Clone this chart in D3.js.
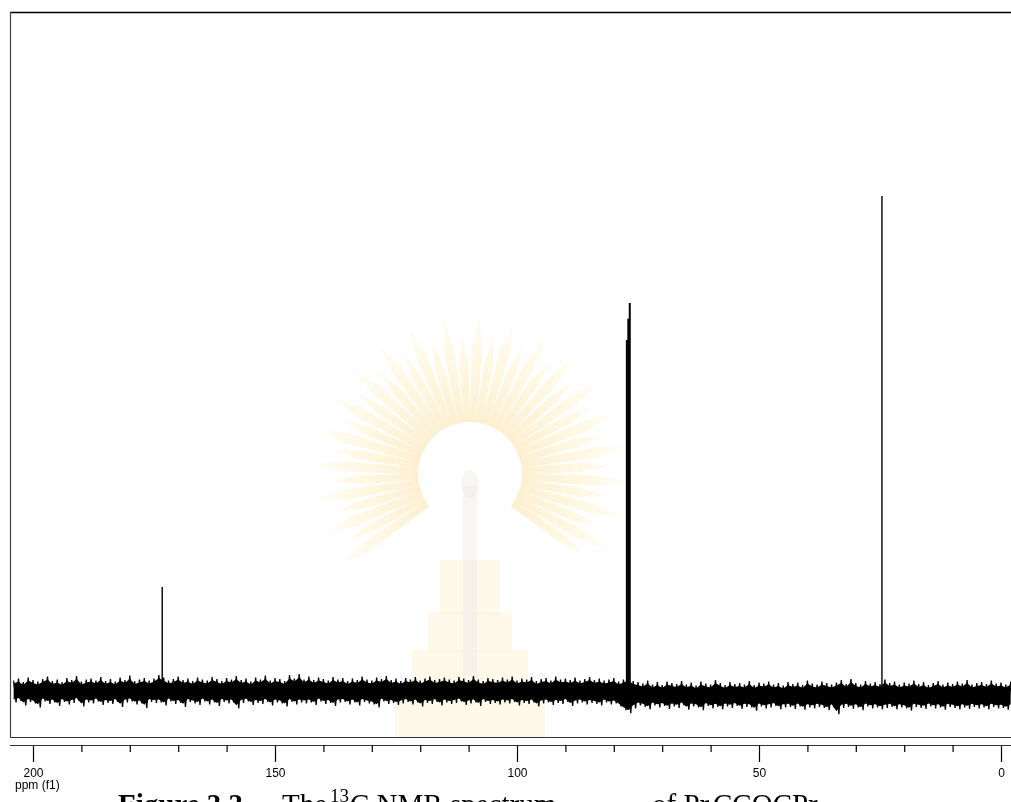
<!DOCTYPE html>
<html>
<head>
<meta charset="utf-8">
<script src="https://cdn.jsdelivr.net/npm/d3@7/dist/d3.min.js"></script>
<style>
  html, body { margin: 0; padding: 0; background: #fff; }
  svg { display: block; }
</style>
</head>
<body>
<svg id="chart" width="1011" height="802"></svg>
<script>
// ---------------- DATA ----------------
// Signals (ppm) and intensities (% of the tallest signal)
const peakPpm    = [173.3, 77.3, 77.0, 76.7, 24.6];
const peakHeight = [21.0, 70.9, 75.2, 78.4, 100.0];

// Noise envelope, one value per ppm from 204 down to -2 (upper and lower edge, % units)
const noiseStartPpm = 204;
const noiseHi = [
  1.8,2.2,1.5,2.4,1.9,1.6,2.1,2.6,1.7,2.0,
  1.5,2.3,1.9,2.7,1.6,2.0,2.2,1.8,2.5,1.7,
  2.1,1.6,2.4,1.9,2.8,1.7,2.0,2.3,1.8,2.2,
  2.9,2.4,1.8,2.1,2.6,1.9,2.2,1.7,2.4,2.0,
  1.8,2.5,2.1,1.7,2.3,2.0,2.7,1.9,2.2,1.6,
  2.4,2.0,2.8,1.8,2.3,2.1,1.7,2.9,2.2,3.1,
  2.0,2.6,1.9,2.4,2.1,1.8,2.5,2.0,2.3,1.7,
  2.2,1.9,2.6,2.0,1.8,2.4,2.1,2.7,1.9,2.2,
  1.7,2.3,2.0,2.5,1.8,2.2,2.6,1.9,2.1,2.4,
  2.0,1.8,2.5,2.2,1.9,2.7,2.0,1.7,2.3,2.1,
  1.9,2.4,2.0,2.6,1.8,2.2,2.0,2.5,1.7,2.1,
  2.3,1.8,2.6,2.0,2.2,1.9,2.4,1.8,2.1,2.5,
  1.9,2.2,1.8,2.0,2.3,1.6,2.0,2.4,1.7,1.5,
  1.2,1.8,1.0,1.5,0.9,1.6,1.3,1.1,1.7,1.0,
  1.4,0.8,1.6,1.2,1.0,1.9,1.3,0.9,1.5,1.1,
  1.3,1.0,1.7,0.9,1.4,1.2,1.6,1.0,1.3,0.8,
  1.5,1.1,1.4,0.9,1.8,1.2,1.0,1.6,1.3,1.0,
  1.4,1.9,1.1,2.1,1.3,1.0,1.7,1.2,1.5,1.1,
  2.0,1.3,1.6,1.0,1.4,1.2,1.8,1.1,1.5,0.9,
  1.3,1.7,1.0,1.4,1.1,1.6,1.2,1.9,1.0,1.3,
  1.5,1.1,1.8,1.2,1.4,1.0,1.6
];
const noiseLo = [
  -2.0,-1.7,-2.6,-1.9,-2.2,-3.0,-1.8,-2.3,-2.0,-2.7,
  -1.9,-2.4,-2.1,-1.7,-2.8,-2.0,-2.2,-1.8,-2.5,-2.1,
  -2.3,-1.9,-2.9,-2.0,-1.8,-2.4,-2.2,-3.1,-1.9,-2.1,
  -2.0,-2.6,-1.8,-2.3,-2.1,-2.9,-1.9,-2.2,-2.5,-1.8,
  -2.4,-2.0,-2.7,-1.9,-2.2,-2.0,-3.2,-2.1,-1.8,-2.5,
  -2.1,-2.3,-1.9,-2.6,-2.0,-2.2,-2.8,-1.9,-2.4,-2.0,
  -2.2,-2.0,-2.5,-1.8,-2.3,-2.1,-2.7,-2.0,-1.9,-2.4,
  -2.0,-2.6,-1.9,-2.2,-2.4,-3.0,-1.8,-2.3,-2.1,-2.5,
  -2.2,-1.9,-2.4,-2.0,-2.8,-2.1,-2.3,-1.9,-2.6,-2.0,
  -2.3,-2.1,-1.8,-2.5,-2.2,-2.0,-2.7,-1.9,-2.3,-2.1,
  -2.4,-2.0,-2.2,-1.9,-2.6,-2.1,-2.3,-2.0,-2.8,-2.2,
  -2.0,-2.5,-2.1,-2.3,-1.9,-2.7,-2.2,-2.0,-2.4,-2.1,
  -2.3,-2.6,-2.0,-2.4,-2.2,-2.8,-3.6,-4.2,-3.2,-2.6,
  -2.9,-3.4,-2.6,-3.0,-2.7,-3.3,-2.8,-3.1,-2.6,-3.5,
  -2.8,-3.0,-3.6,-2.7,-3.2,-2.9,-3.4,-2.8,-3.1,-2.7,
  -3.3,-2.9,-3.0,-3.7,-2.8,-3.2,-3.0,-2.7,-3.4,-3.0,
  -2.9,-3.3,-2.8,-3.5,-3.0,-3.2,-2.9,-3.1,-3.6,-3.0,
  -4.4,-3.1,-2.9,-3.3,-3.0,-3.6,-2.8,-3.2,-3.0,-3.4,
  -3.1,-2.9,-3.4,-3.0,-3.2,-3.7,-2.9,-3.1,-3.3,-2.8,
  -3.2,-3.0,-3.5,-2.9,-3.1,-3.4,-3.0,-3.3,-2.9,-3.2,
  -3.0,-3.4,-2.9,-3.2,-3.1,-3.5,-3.0
];

// Axis ticks
const majorTicks = [200, 150, 100, 50, 0];
const minorTicks = [190, 180, 170, 160, 140, 130, 120, 110, 90, 80, 70, 60, 40, 30, 20, 10];
const axisTitle = "ppm (f1)";

// ---------------- DRAW ----------------
const svg = d3.select("#chart");
const W = 1011, H = 802;
const frame = { left: 10, top: 12, bottom: 737 };
const axisY = 745;

svg.append("rect").attr("width", W).attr("height", H).attr("fill", "#fff");

const x = d3.scaleLinear().domain([200, 0]).range([33, 1001]);
const y = d3.scaleLinear().domain([0, 100]).range([691, 196]);

const defs = svg.append("defs");

// --- faint watermark emblem (background decoration) ---
const wm = svg.append("g").attr("opacity", 0.38);
const cx = 470, cy = 474;
const rg = defs.append("radialGradient").attr("id", "rayg")
  .attr("cx", cx).attr("cy", cy).attr("r", 165).attr("gradientUnits", "userSpaceOnUse");
rg.append("stop").attr("offset", "0.3").attr("stop-color", "#f2b530");
rg.append("stop").attr("offset", "0.6").attr("stop-color", "#f8d770");
rg.append("stop").attr("offset", "1").attr("stop-color", "#fff6dc");
const nRays = 40;
for (let i = 0; i < nRays; i++) {
  const a0 = (-215 + i * (250 / (nRays - 1))) * Math.PI / 180;
  const da = 3.4 * Math.PI / 180;
  const rIn = 52, rOut = (i % 2 ? 138 : 158);
  const p = [
    [cx + rIn * Math.cos(a0 - da), cy + rIn * Math.sin(a0 - da)],
    [cx + (rOut * 0.8) * Math.cos(a0 - da * 0.7), cy + (rOut * 0.8) * Math.sin(a0 - da * 0.7)],
    [cx + rOut * Math.cos(a0), cy + rOut * Math.sin(a0)],
    [cx + (rOut * 0.8) * Math.cos(a0 + da * 0.7), cy + (rOut * 0.8) * Math.sin(a0 + da * 0.7)],
    [cx + rIn * Math.cos(a0 + da), cy + rIn * Math.sin(a0 + da)]
  ];
  wm.append("path").attr("d", "M" + p.join("L") + "Z")
    .attr("fill", "url(#rayg)").attr("opacity", 0.6);
}
wm.append("circle").attr("cx", cx).attr("cy", cy).attr("r", 50).attr("fill", "#fff");
// pedestal
const ped = [[440, 560, 60, 55], [428, 612, 84, 40], [412, 650, 116, 42], [395, 690, 150, 47]];
ped.forEach(r => wm.append("rect").attr("x", r[0]).attr("y", r[1]).attr("width", r[2]).attr("height", r[3])
  .attr("fill", "#f8dc8a").attr("opacity", 0.45));
// pillar
wm.append("rect").attr("x", 463).attr("y", 486).attr("width", 14).attr("height", 190).attr("fill", "#d8d0c0").attr("opacity", 0.5);
wm.append("ellipse").attr("cx", 470).attr("cy", 484).attr("rx", 9).attr("ry", 14).attr("fill", "#d8d0c0").attr("opacity", 0.5);

// --- plot area clip ---
defs.append("clipPath").attr("id", "plotclip").append("rect")
  .attr("x", frame.left + 1).attr("y", frame.top).attr("width", W - frame.left).attr("height", frame.bottom - frame.top);
const plot = svg.append("g").attr("clip-path", "url(#plotclip)");

// noise: solid core + zig-zag trace through the envelope
const noiseIdx = d3.range(noiseHi.length);
const core = d3.area()
  .x(i => x(noiseStartPpm - i))
  .y0(i => y(noiseLo[i] + 0.3))
  .y1(i => y(noiseHi[i] - 0.3));
plot.append("path").attr("d", core(noiseIdx)).attr("fill", "#000");
const zig = [];
noiseIdx.forEach(i => {
  zig.push([x(noiseStartPpm - i), y(noiseHi[i] + 0.3)]);
  zig.push([x(noiseStartPpm - i - 0.5), y(noiseLo[i] - 0.3)]);
});
plot.append("path").attr("d", d3.line()(zig))
  .attr("fill", "none").attr("stroke", "#000").attr("stroke-width", 1.3);

// peaks
plot.selectAll("line.peak").data(peakPpm).join("line").attr("class", "peak")
  .attr("x1", d => x(d)).attr("x2", d => x(d))
  .attr("y1", y(0)).attr("y2", (d, i) => y(peakHeight[i]))
  .attr("stroke", "#000").attr("stroke-width", (d, i) => (i >= 1 && i <= 3) ? 2 : 1.4);

// frame
svg.append("line").attr("x1", frame.left).attr("x2", W).attr("y1", frame.top + 0.5).attr("y2", frame.top + 0.5)
  .attr("stroke", "#000").attr("stroke-width", 1.5);
svg.append("line").attr("x1", frame.left + 0.5).attr("x2", frame.left + 0.5).attr("y1", frame.top).attr("y2", frame.bottom)
  .attr("stroke", "#444").attr("stroke-width", 1.2);
svg.append("line").attr("x1", frame.left).attr("x2", W).attr("y1", frame.bottom + 0.5).attr("y2", frame.bottom + 0.5)
  .attr("stroke", "#333").attr("stroke-width", 1.2);

// axis
svg.append("line").attr("x1", frame.left).attr("x2", W).attr("y1", axisY + 0.5).attr("y2", axisY + 0.5)
  .attr("stroke", "#333").attr("stroke-width", 1.2);
const gMajor = svg.append("g").attr("transform", `translate(0,${axisY})`)
  .call(d3.axisBottom(x).tickValues(majorTicks).tickSize(17).tickPadding(6).tickFormat(d3.format("d")));
const gMinor = svg.append("g").attr("transform", `translate(0,${axisY})`)
  .call(d3.axisBottom(x).tickValues(minorTicks).tickSize(7).tickFormat(""));
[gMajor, gMinor].forEach(g => {
  g.select(".domain").remove();
  g.selectAll(".tick line").attr("stroke", "#000").attr("stroke-width", 1.2);
  g.selectAll("text").attr("font-family", "'Liberation Sans', Arial, sans-serif").attr("font-size", 12).attr("fill", "#000");
});

svg.append("text").attr("x", 15).attr("y", 789).text(axisTitle)
  .attr("font-family", "'Liberation Sans', Arial, sans-serif").attr("font-size", 12).attr("fill", "#000");

// caption (partly below the page edge)
const cap = svg.append("text").attr("y", 814)
  .attr("font-family", "'Liberation Serif', 'Times New Roman', serif").attr("font-size", 29).attr("fill", "#000");
cap.append("tspan").attr("x", 118).attr("font-weight", "bold").text("Figure 3.3");
cap.append("tspan").attr("x", 282).text("The");
cap.append("tspan").attr("x", 330).attr("dy", -12).attr("font-size", 19).text("13");
cap.append("tspan").attr("x", 350).attr("dy", 12).text("C NMR spectrum");
cap.append("tspan").attr("x", 652).text("of Pr");
cap.append("tspan").attr("x", 713).text("CCOCPr");
</script>
</body>
</html>
